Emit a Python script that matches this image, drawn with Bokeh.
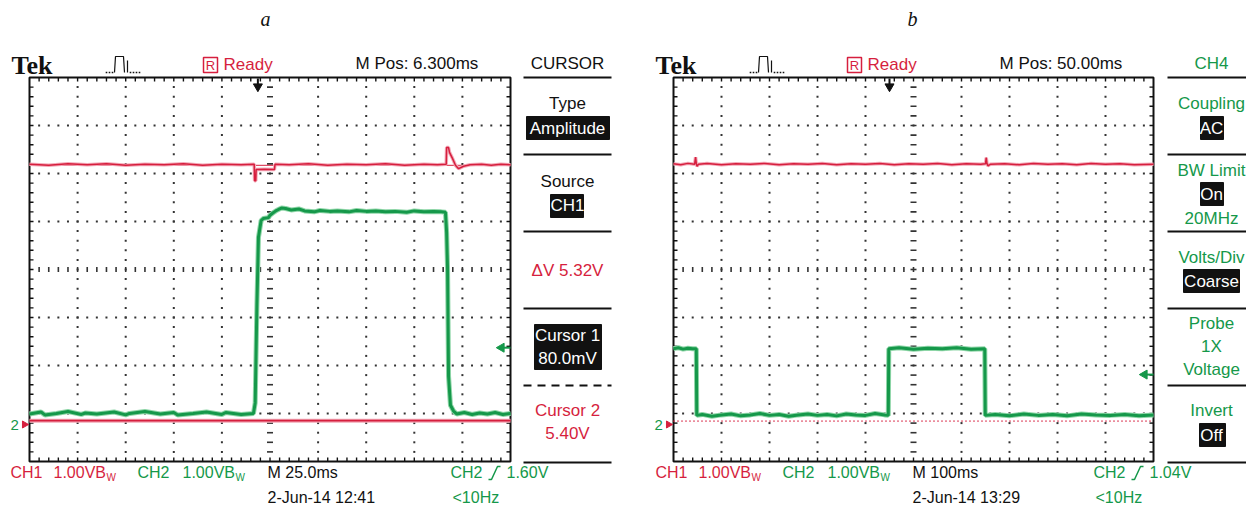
import numpy as np
from bokeh.plotting import figure
from bokeh.models import Range1d, Label
from bokeh.embed import file_html
from bokeh.resources import INLINE

# ---------------- values ----------------
# screen a: 25 ms/div, screen b: 100 ms/div, both 1 V/div.
# time counted from the left edge of each screen, volts from the ground marker.
a_ms_per_div = 25.0
b_ms_per_div = 100.0
volts_per_div = 1.0

# panel a, CH2 (green) pulse
a_ch2_t = [0, 6, 8, 14, 20, 27, 29, 35, 44, 50, 52, 60, 68, 75, 77, 85, 92, 100, 102, 110, 116.4,
           117.3, 118.2, 119.0, 120.4, 121.5, 124.2, 125.0, 126.3, 128.0, 129.4, 131.0, 133.1,
           136, 140, 143, 148, 151, 156, 160, 166, 170, 175, 180, 185, 190, 196, 200, 205, 210, 214, 216.2,
           216.8, 217.3, 217.8, 218.8, 220.4,
           222, 226, 230, 234, 238, 242, 246, 250]
a_ch2_v = [0.22, 0.26, 0.20, 0.23, 0.27, 0.21, 0.24, 0.22, 0.26, 0.20, 0.23, 0.27, 0.22, 0.25, 0.20, 0.23, 0.26, 0.21, 0.25, 0.21, 0.23,
           0.45, 2.50, 3.90, 4.25, 4.29, 4.31, 4.36, 4.40, 4.45, 4.48, 4.51, 4.50,
           4.47, 4.49, 4.45, 4.43, 4.46, 4.44, 4.45, 4.43, 4.46, 4.44, 4.45, 4.43, 4.44, 4.42, 4.45, 4.43, 4.44, 4.43, 4.42,
           4.00, 3.20, 1.00, 0.40, 0.28,
           0.22, 0.25, 0.21, 0.24, 0.22, 0.25, 0.21, 0.23]

# panel a, CH1 (red)
a_ch1_t = [0, 10, 20, 30, 40, 50, 60, 70, 80, 90, 100, 110, 116.8, 117.0, 117.6, 117.8, 122, 127.3, 127.6,
           135, 145, 155, 165, 175, 185, 195, 205, 212, 216.6, 216.8, 217.8, 218.3, 219.9, 221.4, 223, 225.6,
           229, 235, 240, 245, 250]
a_ch1_v = [5.42, 5.40, 5.43, 5.41, 5.43, 5.40, 5.42, 5.41, 5.43, 5.40, 5.42, 5.41, 5.42, 5.08, 5.08, 5.31, 5.32, 5.31, 5.42,
           5.41, 5.43, 5.40, 5.42, 5.41, 5.43, 5.40, 5.42, 5.41, 5.42, 5.77, 5.77, 5.67, 5.54, 5.40, 5.33, 5.38,
           5.41, 5.42, 5.40, 5.42, 5.41]

# panel b, CH2 (green)
b_ch2_t = [0, 10, 20, 30, 40, 47.5, 48.5, 60, 80, 100, 120, 140, 160, 180, 200, 220, 240, 260, 280, 300, 320,
           340, 360, 380, 400, 420, 440, 447.5, 448.5, 470, 500, 530, 560, 590, 620, 648.5, 649.5, 670, 700,
           730, 760, 790, 820, 850, 880, 910, 940, 970, 1000]
b_ch2_v = [1.58, 1.60, 1.57, 1.59, 1.58, 1.58, 0.19, 0.21, 0.17, 0.20, 0.22, 0.18, 0.20, 0.23, 0.19, 0.21, 0.17, 0.20, 0.22, 0.19, 0.21,
           0.18, 0.22, 0.20, 0.19, 0.23, 0.20, 0.19, 1.58, 1.60, 1.57, 1.59, 1.58, 1.60, 1.57, 1.58, 0.19, 0.21, 0.18,
           0.22, 0.19, 0.21, 0.18, 0.22, 0.20, 0.19, 0.21, 0.18, 0.20]

# panel b, CH1 (red)
b_ch1_t = [0, 15, 30, 44, 46, 47.5, 49, 52, 70, 100, 130, 160, 190, 220, 250, 280, 310, 340, 370, 400, 430,
           460, 490, 520, 550, 580, 610, 640, 650, 651.5, 653, 655, 660, 690, 720, 750, 780, 810, 840, 870,
           900, 930, 960, 1000]
b_ch1_v = [5.43, 5.41, 5.44, 5.42, 5.57, 5.44, 5.38, 5.42, 5.44, 5.41, 5.43, 5.42, 5.44, 5.41, 5.43, 5.42, 5.44, 5.41, 5.43, 5.42, 5.44,
           5.41, 5.43, 5.42, 5.44, 5.41, 5.43, 5.42, 5.43, 5.56, 5.44, 5.39, 5.42, 5.43, 5.41, 5.44, 5.42, 5.43, 5.41, 5.44,
           5.42, 5.43, 5.41, 5.42]

a_cursor1 = 0.08      # Cursor 1 80.0mV
a_cursor2 = 5.40      # Cursor 2 5.40V
b_cursor = 0.07
a_trig = 1.60
b_trig = 1.04
a_mpos = 6.3
b_mpos = 50.0

# ---------------- layout ----------------
W, H = 1246, 510
A_L, A_R = 29, 510
B_L, B_R = 673, 1153
TOP, BOT = 77, 461
GND = 424
RED = "#d61f3e"
GREEN = "#15984a"
BLACK = "#111111"
SANS = "Liberation Sans"

p = figure(width=W, height=H, x_range=Range1d(0, W), y_range=Range1d(H, 0),
           output_backend="svg", toolbar_location=None, x_axis_type=None, y_axis_type=None,
           min_border=0, outline_line_color=None, background_fill_color="white")
p.grid.visible = False

pxv = (BOT - TOP) / 8 / volts_per_div


def xr(L, R, ms_per_div):
    ppm = (R - L) / (10 * ms_per_div)
    return Range1d(start=-L / ppm, end=(W - L) / ppm)


p.extra_x_ranges = {"ta": xr(A_L, A_R, a_ms_per_div), "tb": xr(B_L, B_R, b_ms_per_div)}
p.extra_y_ranges = {"v": Range1d(start=(GND - H) / pxv, end=GND / pxv)}


def T(x, y, text, color=BLACK, size=17, align="left", font=SANS, style="normal", baseline="middle",
      y_range_name="default"):
    p.add_layout(Label(x=x, y=y, text=text, text_color=color, text_font_size=f"{size}px",
                       text_align=align, text_baseline=baseline, text_font=font, text_font_style=style,
                       y_range_name=y_range_name))


def screen(L, R):
    dx = (R - L) / 10
    dy = (BOT - TOP) / 8
    xs, ys = [], []
    for i in range(1, 10):
        if i == 5:
            continue
        for k in range(1, 40):
            xs.append(L + i * dx); ys.append(TOP + k * dy / 5)
    for j in range(1, 8):
        if j == 4:
            continue
        for k in range(1, 50):
            xs.append(L + k * dx / 5); ys.append(TOP + j * dy)
    p.scatter(xs, ys, marker="square", size=2, color="#333333", line_width=0)
    # centre cross marks
    xc = L + 5 * dx
    yc = TOP + 4 * dy
    my = [TOP + k * dy / 5 for k in range(1, 40)]
    p.segment([xc - 3] * len(my), my, [xc + 3] * len(my), my, color="#333333", line_width=1.6)
    mx = [L + k * dx / 5 for k in range(1, 50)]
    p.segment(mx, [yc - 2.5] * len(mx), mx, [yc + 2.5] * len(mx), color="#333333", line_width=1.6)
    # border ticks
    p.segment(mx, [TOP] * len(mx), mx, [TOP + 4] * len(mx), color=BLACK, line_width=1.4)
    p.segment(mx, [BOT - 4] * len(mx), mx, [BOT] * len(mx), color=BLACK, line_width=1.4)
    p.segment([L] * len(my), my, [L + 4] * len(my), my, color=BLACK, line_width=1.4)
    p.segment([R - 4] * len(my), my, [R] * len(my), my, color=BLACK, line_width=1.4)
    p.quad(left=[L], right=[R], top=[TOP], bottom=[BOT], fill_color=None, line_color=BLACK, line_width=2)


screen(A_L, A_R)
screen(B_L, B_R)

# ---------------- traces ----------------
# cursors
p.line([0, 10 * a_ms_per_div], [a_cursor1] * 2, x_range_name="ta", y_range_name="v", color="#f2a8b6", line_width=4)
p.line([0, 10 * a_ms_per_div], [a_cursor1] * 2, x_range_name="ta", y_range_name="v", color=RED, line_width=1.6)
p.line([0, 10 * a_ms_per_div], [a_cursor2] * 2, x_range_name="ta", y_range_name="v", color=RED, line_width=1)
p.line([0, 10 * b_ms_per_div], [b_cursor] * 2, x_range_name="tb", y_range_name="v", color=RED, line_width=1.6,
       line_dash="1 3")

for t, v, rn in [(a_ch1_t, a_ch1_v, "ta"), (b_ch1_t, b_ch1_v, "tb")]:
    p.line(t, v, x_range_name=rn, y_range_name="v", color="#f3a9b8", line_width=3.5)
    p.line(t, v, x_range_name=rn, y_range_name="v", color=RED, line_width=1.5)
for t, v, rn in [(a_ch2_t, a_ch2_v, "ta"), (b_ch2_t, b_ch2_v, "tb")]:
    p.line(t, v, x_range_name=rn, y_range_name="v", color="#8fd6a8", line_width=5)
    p.line(t, v, x_range_name=rn, y_range_name="v", color=GREEN, line_width=3)

# trigger position arrows (top) and trigger level arrows (right)
for rn, centre, mpos in [("ta", 5 * a_ms_per_div, a_mpos), ("tb", 5 * b_ms_per_div, b_mpos)]:
    xt = centre - mpos
    p.segment([xt], [78], [xt], [86], x_range_name=rn, color=BLACK, line_width=2)
    p.scatter([xt], [86], x_range_name=rn, marker="inverted_triangle", size=9, color=BLACK)
for R, lvl in [(A_R, a_trig), (B_R, b_trig)]:
    p.segment([R - 9], [lvl], [R], [lvl], y_range_name="v", color=GREEN, line_width=2)
    p.scatter([R - 9], [lvl], y_range_name="v", marker="triangle", angle=np.pi / 2, size=9, color=GREEN)
# ground markers (CH1 and CH2 both at 0 V)
for L in (A_L, B_L):
    T(L - 19, 0, "2", GREEN, 15, y_range_name="v")
    p.scatter([L - 5], [0], y_range_name="v", marker="triangle", angle=-np.pi / 2, size=7, color=RED)

# ---------------- header ----------------
for off, mpos_txt in [(0, "M Pos: 6.300ms"), (644, "M Pos: 50.00ms")]:
    T(11 + off, 65, "Tek", BLACK, 26, font="Liberation Serif", style="bold")
    bx = 105 + off
    p.line([bx + 9, bx + 10, bx + 18, bx + 19], [72, 56, 56, 72], color=BLACK, line_width=1.2)
    p.line([bx + 22, bx + 22], [60, 72], color=BLACK, line_width=1.2)
    p.scatter([bx + 1, bx + 4, bx + 7, bx + 25, bx + 28, bx + 31, bx + 34], [72] * 7, marker="square",
              size=1.6, color=BLACK, line_width=0)
    p.quad(left=[203 + off], right=[217 + off], top=[57], bottom=[72], fill_color=None, line_color=RED,
           line_width=1.5)
    T(210 + off, 64.5, "R", RED, 13, align="center")
    T(223 + off, 64, "Ready", RED, 17)
    T(355 + off, 63, mpos_txt, BLACK, 17)

T(265, 18, "a", BLACK, 20, align="center", font="Liberation Serif", style="italic")
T(912, 18, "b", BLACK, 20, align="center", font="Liberation Serif", style="italic")

# ---------------- side menus ----------------
MA = 567
for y in (77, 154, 231, 308, 462):
    p.segment([523], [y], [611], [y], color=BLACK, line_width=2)
p.segment([523], [385], [611], [385], color=BLACK, line_width=2, line_dash="8 6")
T(MA, 63, "CURSOR", BLACK, 17, "center")
T(MA, 103, "Type", BLACK, 17, "center")
p.quad(left=[526], right=[609], top=[116], bottom=[139], color=BLACK)
T(MA, 128, "Amplitude", "white", 17, "center")
T(MA, 181, "Source", BLACK, 17, "center")
p.quad(left=[550], right=[583], top=[194], bottom=[217], color=BLACK)
T(MA, 205, "CH1", "white", 17, "center")
T(MA, 270, "\u0394V 5.32V", RED, 17, "center")
p.quad(left=[534], right=[601], top=[324], bottom=[369], color=BLACK)
T(MA, 335, "Cursor 1", "white", 17, "center")
T(MA, 358, "80.0mV", "white", 17, "center")
T(MA, 410, "Cursor 2", RED, 17, "center")
T(MA, 433, "5.40V", RED, 17, "center")

MB = 1211
for y in (77, 154, 231, 308, 385, 462):
    p.segment([1167], [y], [1246], [y], color=BLACK, line_width=2)
T(MB, 63, "CH4", GREEN, 17, "center")
T(MB, 103, "Coupling", GREEN, 17, "center")
p.quad(left=[1200], right=[1223], top=[116], bottom=[139], color=BLACK)
T(MB, 128, "AC", "white", 17, "center")
T(MB, 170, "BW Limit", GREEN, 17, "center")
p.quad(left=[1200], right=[1223], top=[182], bottom=[205], color=BLACK)
T(MB, 194, "On", "white", 17, "center")
T(MB, 218, "20MHz", GREEN, 17, "center")
T(MB, 257, "Volts/Div", GREEN, 17, "center")
p.quad(left=[1183], right=[1239], top=[269], bottom=[292], color=BLACK)
T(MB, 281, "Coarse", "white", 17, "center")
T(MB, 323, "Probe", GREEN, 17, "center")
T(MB, 346, "1X", GREEN, 17, "center")
T(MB, 369, "Voltage", GREEN, 17, "center")
T(MB, 410, "Invert", GREEN, 17, "center")
p.quad(left=[1199], right=[1225], top=[423], bottom=[446], color=BLACK)
T(MB, 435, "Off", "white", 17, "center")

# ---------------- bottom status lines ----------------
for off, off2, mtxt, dtxt, trig_txt in [(0, 0, "M 25.0ms", "2-Jun-14 12:41", "1.60V"),
                                        (645, 643, "M 100ms", "2-Jun-14 13:29", "1.04V")]:
    T(10 + off, 472, "CH1", RED, 16)
    T(53 + off, 472, "1.00VB", RED, 16)
    T(106 + off, 477, "W", RED, 10)
    T(137 + off, 472, "CH2", GREEN, 16)
    T(182 + off, 472, "1.00VB", GREEN, 16)
    T(235 + off, 477, "W", GREEN, 10)
    T(267 + off, 472, mtxt, BLACK, 16)
    T(450 + off2, 472, "CH2", GREEN, 16)
    sx = 488 + off2
    p.line([sx, sx + 3, sx + 9, sx + 12], [479, 479, 466, 466], color=GREEN, line_width=1.5)
    T(sx + 18, 472, trig_txt, GREEN, 16)
    T(267 + off, 497, dtxt, BLACK, 16)
    T(452 + off2, 497, "<10Hz", GREEN, 16)

open("out.html", "w").write(file_html(p, INLINE))
